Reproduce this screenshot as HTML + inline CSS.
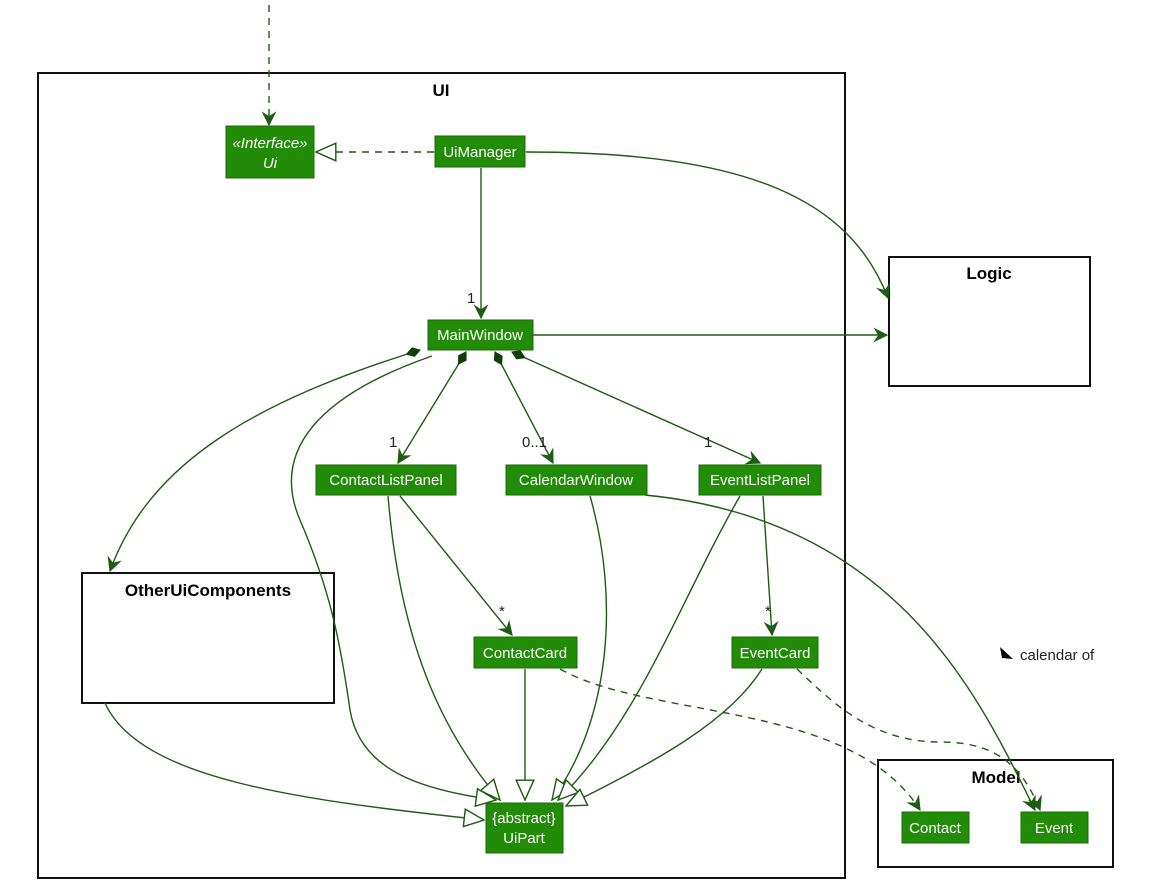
<!DOCTYPE html>
<html><head><meta charset="utf-8"><style>
html,body{margin:0;padding:0;background:#fff;}
svg{display:block;font-family:"Liberation Sans",sans-serif;}
.b{fill:#228B08;stroke:#1a6b06;stroke-width:1}
.t{fill:#fff;font-size:15px;text-anchor:middle}
.e{fill:none;stroke:#1d5c12;stroke-width:1.4}
.d{stroke-dasharray:7,6}
.f{fill:#fff;stroke:#111;stroke-width:2}
.h{font-weight:bold;font-size:17px;text-anchor:middle;fill:#000}
.l{font-size:15px;fill:#222}
</style></head><body>
<svg width="1167" height="890" viewBox="0 0 1167 890">
<defs>
<marker id="a" viewBox="0 0 12 12" refX="11" refY="6" markerWidth="15" markerHeight="15" markerUnits="userSpaceOnUse" orient="auto"><path d="M0,0 L12,6 L0,12 L4,6 z" fill="#1d5c12"/></marker>
<marker id="tr" viewBox="0 0 20 20" refX="19" refY="10" markerWidth="22" markerHeight="22" markerUnits="userSpaceOnUse" orient="auto"><path d="M1,2 L19,10 L1,18 z" fill="#fff" stroke="#1d5c12" stroke-width="1.3"/></marker>
<marker id="dm" viewBox="0 0 16 10" refX="1" refY="5" markerWidth="16" markerHeight="10" markerUnits="userSpaceOnUse" orient="auto"><path d="M0,5 L8,0 L16,5 L8,10 z" fill="#123d0a"/></marker>
</defs>
<rect class="f" x="38" y="73" width="807" height="805"/>
<text class="h" x="441" y="96">UI</text>
<rect class="f" x="889" y="257" width="201" height="129"/>
<text class="h" x="989" y="279">Logic</text>
<rect class="f" x="82" y="573" width="252" height="130"/>
<text class="h" x="208" y="596">OtherUiComponents</text>
<rect class="f" x="878" y="760" width="235" height="107"/>
<text class="h" x="996" y="783">Model</text>

<path class="e d" d="M269,5 L269,125" marker-end="url(#a)"/>
<path class="e d" d="M434,152 L316,152" marker-end="url(#tr)"/>
<path class="e" d="M526,152 C750,152 850,200 888,298" marker-end="url(#a)"/>
<path class="e" d="M481,168 L481,318" marker-end="url(#a)"/>
<path class="e" d="M533,335 L887,335" marker-end="url(#a)"/>
<path class="e" d="M420,350 C260,400 150,460 110,571" marker-start="url(#dm)" marker-end="url(#a)"/>
<path class="e" d="M432,356 C320,395 270,450 300,520 C330,590 340,640 350,710 C360,770 420,790 496,800" marker-end="url(#tr)"/>
<path class="e" d="M466,352 L398,463" marker-start="url(#dm)" marker-end="url(#a)"/>
<path class="e" d="M495,352 L553,463" marker-start="url(#dm)" marker-end="url(#a)"/>
<path class="e" d="M512,352 L760,463" marker-start="url(#dm)" marker-end="url(#a)"/>
<path class="e" d="M388,496 C400,640 440,730 500,800" marker-end="url(#tr)"/>
<path class="e" d="M400,496 L512,635" marker-end="url(#a)"/>
<path class="e" d="M590,496 C620,600 610,720 552,800" marker-end="url(#tr)"/>
<path class="e" d="M645,495 C900,520 980,700 1035,810" marker-end="url(#a)"/>
<path class="e" d="M740,496 C680,600 640,720 558,800" marker-end="url(#tr)"/>
<path class="e" d="M763,496 L772,635" marker-end="url(#a)"/>
<path class="e" d="M525,669 L525,800" marker-end="url(#tr)"/>
<path class="e" d="M762,669 C730,720 660,760 566,806" marker-end="url(#tr)"/>
<path class="e" d="M105,703 C140,780 300,800 484,820" marker-end="url(#tr)"/>
<path class="e d" d="M560,669 C650,720 850,700 920,810" marker-end="url(#a)"/>
<path class="e d" d="M797,669 C830,700 870,742 940,742 C990,742 1020,760 1040,810" marker-end="url(#a)"/>

<text class="l" x="467" y="303">1</text>
<text class="l" x="389" y="447">1</text>
<text class="l" x="522" y="447">0..1</text>
<text class="l" x="704" y="447">1</text>
<text class="l" x="499" y="616">*</text>
<text class="l" x="765" y="616">*</text>
<path d="M1000,647 L1013,659 L1002,658 z" fill="#000"/>
<text class="l" x="1020" y="660">calendar of</text>

<rect class="b" x="226" y="126" width="88" height="52"/>
<text class="t" x="270" y="148" font-style="italic">«Interface»</text>
<text class="t" x="270" y="168" font-style="italic">Ui</text>
<rect class="b" x="435" y="136" width="90" height="31"/><text class="t" x="480" y="157">UiManager</text>
<rect class="b" x="428" y="320" width="105" height="30"/><text class="t" x="480" y="340">MainWindow</text>
<rect class="b" x="316" y="465" width="140" height="30"/><text class="t" x="386" y="485">ContactListPanel</text>
<rect class="b" x="506" y="465" width="141" height="30"/><text class="t" x="576" y="485">CalendarWindow</text>
<rect class="b" x="699" y="465" width="122" height="30"/><text class="t" x="760" y="485">EventListPanel</text>
<rect class="b" x="474" y="637" width="103" height="31"/><text class="t" x="525" y="658">ContactCard</text>
<rect class="b" x="732" y="637" width="86" height="31"/><text class="t" x="775" y="658">EventCard</text>
<rect class="b" x="486" y="803" width="77" height="50"/>
<text class="t" x="524" y="823">{abstract}</text><text class="t" x="524" y="843">UiPart</text>
<rect class="b" x="902" y="812" width="67" height="31"/><text class="t" x="935" y="833">Contact</text>
<rect class="b" x="1021" y="812" width="67" height="31"/><text class="t" x="1054" y="833">Event</text>
</svg>
</body></html>
